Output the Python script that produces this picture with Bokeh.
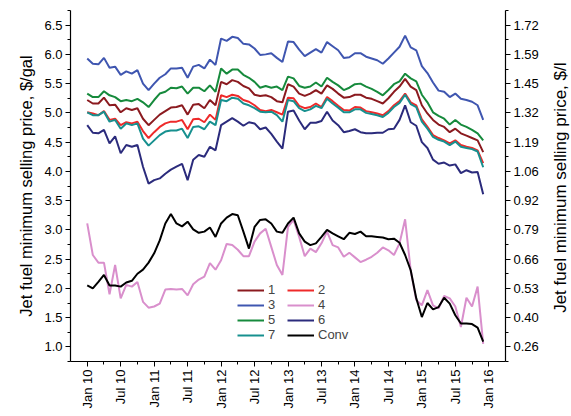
import math
from bokeh.plotting import figure
from bokeh.layouts import row
from bokeh.core.properties import value
from bokeh.models import (Range1d, LinearAxis, FixedTicker, CustomJSTickFormatter,
                          PrintfTickFormatter, Legend, LegendItem)
from bokeh.embed import file_html
from bokeh.resources import INLINE

# month index: 0 = Jan 2010 ... 71 = Dec 2015
months = list(range(72))

s1 = [5.22, 5.16, 5.16, 5.26, 5.13, 5.14, 5.01, 5.08, 5.05, 5.08, 4.90, 4.79,
      4.88, 4.97, 5.03, 5.09, 5.10, 5.13, 4.97, 5.14, 5.15, 5.08, 5.22, 5.13,
      5.53, 5.49, 5.56, 5.53, 5.46, 5.42, 5.31, 5.29, 5.30, 5.27, 5.20, 5.18,
      5.49, 5.45, 5.33, 5.29, 5.33, 5.39, 5.33, 5.47, 5.41, 5.33, 5.26, 5.27,
      5.31, 5.31, 5.26, 5.24, 5.20, 5.16, 5.25, 5.36, 5.45, 5.58, 5.45, 5.39,
      5.13, 4.99, 4.88, 4.80, 4.76, 4.67, 4.73, 4.65, 4.61, 4.57, 4.53, 4.33]
s2 = [5.01, 4.99, 4.96, 5.03, 4.88, 4.90, 4.79, 4.84, 4.82, 4.85, 4.69, 4.57,
      4.67, 4.76, 4.82, 4.85, 4.85, 4.88, 4.72, 4.89, 4.90, 4.84, 4.97, 4.88,
      5.30, 5.27, 5.31, 5.29, 5.22, 5.19, 5.13, 5.05, 5.03, 5.05, 5.01, 4.97,
      5.26, 5.25, 5.12, 5.08, 5.10, 5.16, 5.10, 5.27, 5.20, 5.12, 5.05, 5.04,
      5.10, 5.09, 5.03, 5.01, 4.99, 4.96, 5.03, 5.13, 5.20, 5.33, 5.18, 5.13,
      4.89, 4.76, 4.62, 4.57, 4.53, 4.48, 4.53, 4.45, 4.42, 4.40, 4.36, 4.14]
s3 = [5.93, 5.84, 5.83, 5.94, 5.77, 5.79, 5.65, 5.71, 5.67, 5.73, 5.50, 5.39,
      5.50, 5.60, 5.66, 5.76, 5.76, 5.77, 5.60, 5.79, 5.82, 5.76, 5.91, 5.82,
      6.27, 6.23, 6.30, 6.28, 6.18, 6.17, 6.10, 5.99, 6.00, 6.02, 5.94, 5.87,
      6.22, 6.21, 6.08, 5.97, 6.03, 6.09, 6.03, 6.21, 6.14, 6.07, 5.94, 5.95,
      6.02, 6.02, 5.96, 5.93, 5.90, 5.84, 5.93, 6.03, 6.13, 6.32, 6.12, 6.07,
      5.80, 5.68, 5.52, 5.38, 5.36, 5.27, 5.33, 5.24, 5.22, 5.19, 5.13, 4.88]
s4 = [3.11, 2.57, 2.44, 2.44, 1.90, 2.40, 1.83, 2.06, 2.03, 2.11, 1.77, 1.67,
      1.69, 1.74, 1.98, 1.99, 1.98, 1.99, 1.88, 2.07, 2.15, 2.20, 2.43, 2.32,
      2.48, 2.76, 2.74, 2.66, 2.55, 2.55, 2.80, 2.94, 3.02, 2.71, 2.40, 2.23,
      3.05, 3.17, 2.88, 2.55, 2.68, 2.62, 2.77, 2.97, 2.74, 2.70, 2.54, 2.61,
      2.53, 2.45, 2.49, 2.54, 2.61, 2.70, 2.65, 2.57, 2.77, 3.18, 2.31, 1.80,
      1.71, 1.97, 1.71, 1.66, 1.87, 1.83, 1.69, 1.34, 1.84, 1.69, 2.03, 1.05]
s5 = [5.33, 5.27, 5.27, 5.37, 5.30, 5.27, 5.20, 5.22, 5.20, 5.24, 5.18, 5.10,
      5.22, 5.33, 5.36, 5.43, 5.42, 5.45, 5.33, 5.43, 5.43, 5.37, 5.47, 5.36,
      5.76, 5.67, 5.74, 5.74, 5.65, 5.60, 5.53, 5.43, 5.46, 5.43, 5.45, 5.39,
      5.62, 5.59, 5.46, 5.43, 5.45, 5.52, 5.45, 5.60, 5.53, 5.47, 5.39, 5.43,
      5.49, 5.50, 5.45, 5.41, 5.36, 5.30, 5.39, 5.49, 5.54, 5.67, 5.59, 5.54,
      5.31, 5.18, 5.01, 4.95, 4.90, 4.80, 4.88, 4.80, 4.76, 4.71, 4.65, 4.53]
s6 = [4.79, 4.66, 4.65, 4.71, 4.48, 4.60, 4.31, 4.45, 4.42, 4.45, 4.08, 3.79,
      3.85, 3.88, 3.96, 4.03, 4.08, 4.13, 3.85, 4.20, 4.28, 4.25, 4.42, 4.36,
      4.79, 4.85, 4.91, 4.85, 4.78, 4.84, 4.82, 4.72, 4.75, 4.64, 4.51, 4.39,
      5.02, 5.04, 4.87, 4.72, 4.83, 4.83, 4.86, 5.02, 4.87, 4.79, 4.67, 4.69,
      4.72, 4.67, 4.65, 4.65, 4.66, 4.66, 4.72, 4.73, 4.88, 5.13, 4.84, 4.78,
      4.50, 4.40, 4.20, 4.13, 4.15, 4.10, 4.12, 3.97, 4.02, 3.98, 3.99, 3.61]
s7 = [5.01, 4.96, 4.96, 5.02, 4.85, 4.88, 4.73, 4.82, 4.79, 4.82, 4.56, 4.44,
      4.53, 4.62, 4.68, 4.70, 4.70, 4.73, 4.57, 4.76, 4.77, 4.72, 4.85, 4.79,
      5.22, 5.20, 5.26, 5.24, 5.16, 5.13, 5.08, 5.02, 5.01, 5.02, 4.96, 4.85,
      5.22, 5.20, 5.08, 5.03, 5.06, 5.12, 5.08, 5.24, 5.16, 5.09, 5.01, 5.01,
      5.06, 5.06, 5.00, 4.98, 4.96, 4.93, 5.00, 5.10, 5.17, 5.31, 5.15, 5.10,
      4.85, 4.73, 4.59, 4.54, 4.51, 4.45, 4.51, 4.42, 4.40, 4.38, 4.34, 4.07]
conv = [2.05, 2.00, 2.11, 2.23, 2.05, 2.05, 2.03, 2.10, 2.13, 2.25, 2.32, 2.44,
        2.60, 2.82, 3.11, 3.27, 3.11, 3.06, 3.14, 3.01, 2.95, 2.97, 3.04, 2.88,
        3.11, 3.21, 3.27, 3.25, 2.97, 2.68, 3.05, 3.17, 3.18, 3.11, 2.97, 2.95,
        3.11, 3.21, 2.94, 2.80, 2.74, 2.77, 2.88, 3.00, 2.94, 2.89, 2.84, 2.95,
        2.93, 2.97, 2.89, 2.89, 2.88, 2.87, 2.84, 2.85, 2.78, 2.57, 2.31, 1.83,
        1.51, 1.75, 1.64, 1.68, 1.84, 1.74, 1.54, 1.40, 1.40, 1.39, 1.33, 1.09]

series_names = ["1", "2", "3", "4", "5", "6", "7", "Conv"]
series_colors = ["#8b1a1f", "#ee2a2a", "#3f56b0", "#d98fcc", "#168a3c",
                 "#2b2b7c", "#17908f", "#000000"]

x_tick_pos = [0, 6, 12, 18, 24, 30, 36, 42, 48, 54, 60, 66, 72]
x_tick_labels = ["Jan 10", "Jul 10", "Jan 11", "Jul 11", "Jan 12", "Jul 12",
                 "Jan 13", "Jul 13", "Jan 14", "Jul 14", "Jan 15", "Jul 15", "Jan 16"]
y_ticks = [1.0, 1.5, 2.0, 2.5, 3.0, 3.5, 4.0, 4.5, 5.0, 5.5, 6.0, 6.5]
y_right_labels = ["0.26", "0.40", "0.53", "0.66", "0.79", "0.92", "1.06",
                  "1.19", "1.32", "1.45", "1.59", "1.72"]
left_title = "Jet fuel minimum selling price, $/gal"
right_title = "Jet fuel minimum selling price, $/l"

FONT = "Liberation Sans"

p = figure(width=549, height=416, output_backend="svg", toolbar_location=None,
           x_range=Range1d(-3, 75), y_range=Range1d(0.75, 6.75),
           min_border_left=70, min_border_right=44, min_border_top=10,
           min_border_bottom=55)
p.outline_line_color = None
p.grid.visible = False
p.xaxis.visible = False
p.yaxis.visible = False

# bottom axis
xax = LinearAxis()
xax.ticker = FixedTicker(ticks=x_tick_pos, minor_ticks=[t + 3 for t in x_tick_pos[:-1]])
xax.formatter = CustomJSTickFormatter(args=dict(pos=x_tick_pos, labels=x_tick_labels), code="""
    const i = pos.indexOf(Math.round(tick));
    return i >= 0 ? labels[i] : '';
""")
xax.major_label_orientation = math.pi / 2
p.add_layout(xax, "below")

# left axis
yax = LinearAxis(axis_label=left_title)
yax.ticker = FixedTicker(ticks=y_ticks, minor_ticks=[t - 0.25 for t in y_ticks] + [6.75])
yax.formatter = PrintfTickFormatter(format="%.1f")
p.add_layout(yax, "left")

# right axis
rax = LinearAxis()
rax.ticker = FixedTicker(ticks=y_ticks, minor_ticks=[t - 0.25 for t in y_ticks] + [6.75])
rax.formatter = CustomJSTickFormatter(args=dict(pos=y_ticks, labels=y_right_labels), code="""
    let best = 0;
    for (let i = 0; i < pos.length; i++) {
        if (Math.abs(pos[i] - tick) < Math.abs(pos[best] - tick)) best = i;
    }
    return labels[best];
""")
p.add_layout(rax, "right")

for ax in (xax, yax, rax):
    ax.axis_line_color = "black"
    ax.axis_line_width = 1.2
    ax.major_tick_out = 5
    ax.major_tick_in = 0
    ax.minor_tick_out = 3
    ax.minor_tick_in = 0
    ax.major_tick_line_color = "black"
    ax.minor_tick_line_color = "black"
    ax.major_label_text_font = FONT
    ax.major_label_text_font_size = "13px"
    ax.major_label_text_color = "black"
    ax.axis_label_text_font = FONT
    ax.axis_label_text_font_size = "16.5px"
    ax.axis_label_text_font_style = "normal"
    ax.axis_label_text_color = "black"
    ax.major_label_standoff = 3
    ax.axis_label_standoff = 6

all_series = [s1, s2, s3, s4, s5, s6, s7, conv]
renderers = []
for name, col, ys in zip(series_names, series_colors, all_series):
    r = p.line(months, ys, line_color=col, line_width=2)
    renderers.append(r)

def make_legend(idx, loc):
    items = [LegendItem(label=series_names[i], renderers=[renderers[i]]) for i in idx]
    leg = Legend(items=items, location=loc, orientation="vertical",
                 glyph_width=27, glyph_height=14, label_height=14,
                 spacing=0, padding=0, margin=0, label_standoff=4,
                 label_text_font=FONT, label_text_font_size="13px",
                 background_fill_alpha=0, border_line_alpha=0)
    return leg

p.add_layout(make_legend([0, 2, 4, 6], (167, 19)), "center")
p.add_layout(make_legend([1, 3, 5, 7], (217, 19)), "center")

# narrow strip holding the right-hand axis title (reads bottom to top)
t = figure(width=22, height=416, output_backend="svg", toolbar_location=None,
           x_range=Range1d(0, 1), y_range=Range1d(0, 416),
           min_border_left=0, min_border_right=0, min_border_top=0, min_border_bottom=0)
t.outline_line_color = None
t.grid.visible = False
t.axis.visible = False
t.text(x=[0.5], y=[206], text=[right_title], angle=math.pi / 2,
       text_align="center", text_baseline="middle",
       text_font=value(FONT), text_font_size="17px", text_color="black")

layout = row(p, t, spacing=0)
open("out.html", "w").write(file_html(layout, INLINE))
